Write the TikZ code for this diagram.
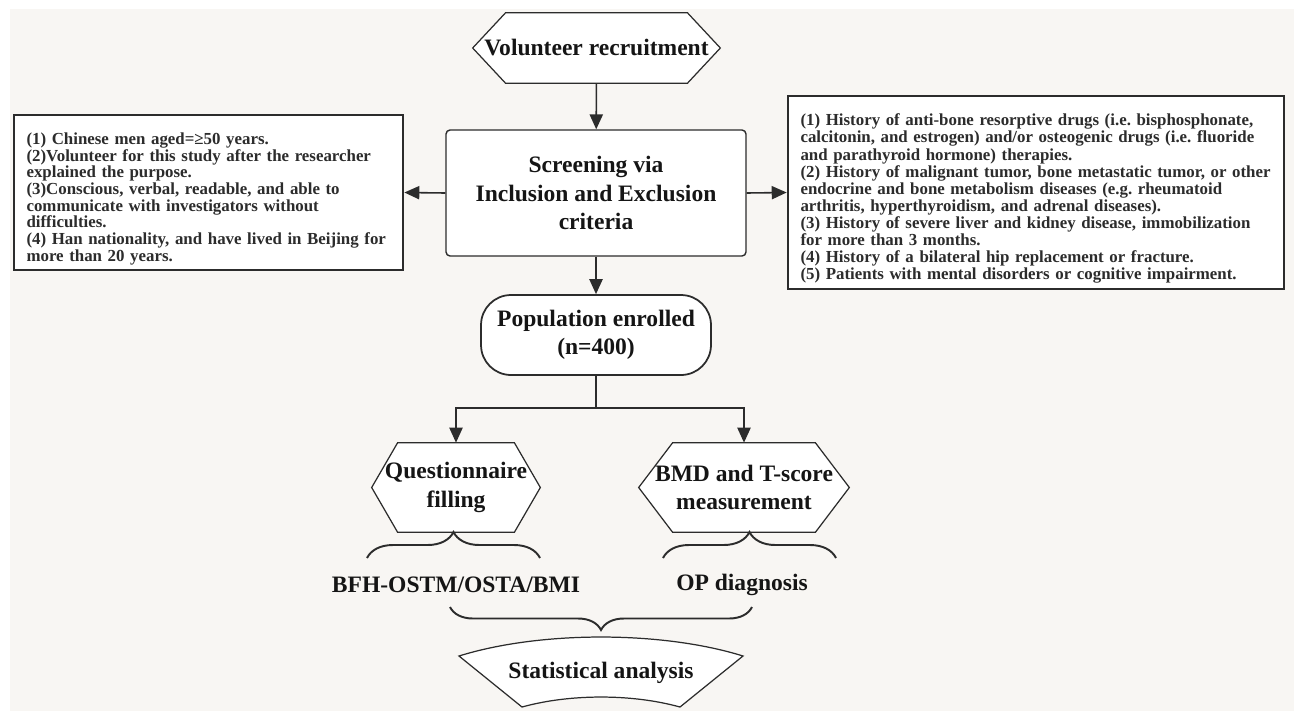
\documentclass[tikz,border=0pt]{standalone}
\usepackage{fontspec}
\setmainfont{Liberation Serif}
\usetikzlibrary{arrows.meta,decorations.pathreplacing,backgrounds,positioning}
\frenchspacing

\definecolor{paperbg}{HTML}{F8F6F3}
\definecolor{edgegray}{HTML}{2C2C2C}
\definecolor{inkdark}{HTML}{151515}

\tikzset{
  flowline/.style={draw=edgegray,line width=0.9pt},
  flowarrow/.style={flowline,-{Triangle[length=8.5pt,width=7.5pt]}},
  hexlabel/.style={inner sep=0pt,align=center,text=inkdark,font=\bfseries\fontsize{13.4}{16.2}\selectfont},
  hexline/.style={draw=edgegray,fill=white,line width=0.7pt},
  critbox/.style={draw=edgegray,fill=white,line width=1.6pt,align=left,text=edgegray,
    inner xsep=0.25cm,inner ysep=0pt,execute at begin node={\rule{0pt}{0.49cm}}},
  bracepath/.style={draw=edgegray,line width=1.1pt,decorate},
}

\begin{document}
\begin{tikzpicture}[x=0.02cm,y=-0.02cm]
  \useasboundingbox (0,0) rectangle (1294,711);
  \begin{scope}[on background layer]
    \fill[paperbg] (10,9) rectangle (1294,711);
  \end{scope}

  % main column
  \node[hexlabel,minimum width=4.94cm,minimum height=1.4cm] (recruit) at (596.5,48) {Volunteer recruitment};
  \node[draw=edgegray,fill=white,line width=0.8pt,rounded corners=0.08cm,minimum width=6cm,minimum height=2.52cm,
    align=center,text=inkdark,font=\bfseries\fontsize{13.4}{16.2}\selectfont] (screen) at (596,193)
    {Screening via\\Inclusion and Exclusion\\criteria};
  \node[draw=edgegray,fill=white,line width=1pt,rounded corners=0.6cm,minimum width=4.6cm,minimum height=1.6cm,
    align=center,text=inkdark,font=\bfseries\fontsize{13.4}{16.2}\selectfont] (enrolled) at (596,335)
    {Population enrolled\\(n=400)};

  % criteria boxes
  \node[critbox,font=\bfseries\fontsize{9.6}{9.5}\selectfont,text width=7.28cm,minimum height=3.1cm] (inclusion) at (208.5,192.5)
    {(1) Chinese men aged=≥50 years.\\
     (2)Volunteer for this study after the researcher\\
     explained the purpose.\\
     (3)Conscious, verbal, readable, and able to\\
     communicate with investigators without\\
     difficulties.\\
     (4) Han nationality, and have lived in Beijing for\\
     more than 20 years.};
  \node[critbox,font=\bfseries\fontsize{9.6}{9.75}\selectfont,text width=9.42cm,minimum height=3.86cm] (exclusion) at (1036,192.5)
    {(1) History of anti-bone resorptive drugs (i.e. bisphosphonate,\\
     calcitonin, and estrogen) and/or osteogenic drugs (i.e. fluoride\\
     and parathyroid hormone) therapies.\\
     (2) History of malignant tumor, bone metastatic tumor, or other\\
     endocrine and bone metabolism diseases (e.g. rheumatoid\\
     arthritis, hyperthyroidism, and adrenal diseases).\\
     (3) History of severe liver and kidney disease, immobilization\\
     for more than 3 months.\\
     (4) History of a bilateral hip replacement or fracture.\\
     (5) Patients with mental disorders or cognitive impairment.};

  % two branches
  \node[hexlabel,minimum width=3.36cm,minimum height=1.78cm] (questionnaire) at (456,487.5) {Questionnaire\\filling};
  \node[hexlabel,minimum width=4.2cm,minimum height=1.78cm] (bmd) at (744,487.5) {BMD and T-score\\measurement};
  \node[hexlabel] (tools) at (456,585) {BFH-OSTM/OSTA/BMI};
  \node[hexlabel] (diagnosis) at (742,585) {OP diagnosis};
  \node[hexlabel,minimum width=5.68cm,minimum height=1.44cm] (analysis) at (601,673) {Statistical analysis};

  % shape outlines
  \begin{scope}[on background layer]
    \foreach \n/\d in {recruit/0.66cm,questionnaire/0.52cm,bmd/0.68cm}
      \draw[hexline] (\n.west) -- ([xshift=\d]\n.north west) -- ([xshift=-\d]\n.north east)
        -- (\n.east) -- ([xshift=-\d]\n.south east) -- ([xshift=\d]\n.south west) -- cycle;
    \draw[hexline] (459,656) .. controls (540,630.7) and (662,630.7) .. (743,656)
      -- (680,707) .. controls (632,693.7) and (570,693.7) .. (522,707) -- cycle;
  \end{scope}

  % connectors
  \coordinate (split) at (596,408);
  \draw[flowarrow] (recruit) -- (screen);
  \draw[flowarrow] (screen.west) -- (inclusion.east);
  \draw[flowarrow] (screen.east) -- (exclusion.west);
  \draw[flowarrow] (screen) -- (enrolled);
  \draw[flowline] (enrolled) -- (split);
  \draw[flowarrow] (split) -| (questionnaire.north);
  \draw[flowarrow] (split) -| (bmd.north);

  % braces
  \coordinate (qleft) at (367,558);
  \coordinate (qright) at (540,558);
  \coordinate (bleft) at (663,558);
  \coordinate (bright) at (836,558);
  \coordinate (sright) at (752,607);
  \coordinate (sleft) at (450,607);
  \draw[bracepath,decoration={brace,amplitude=0.52cm}] (qleft) -- (qright);
  \draw[bracepath,decoration={brace,amplitude=0.52cm}] (bleft) -- (bright);
  \draw[bracepath,decoration={brace,amplitude=0.46cm}] (sright) -- (sleft);
\end{tikzpicture}
\end{document}
